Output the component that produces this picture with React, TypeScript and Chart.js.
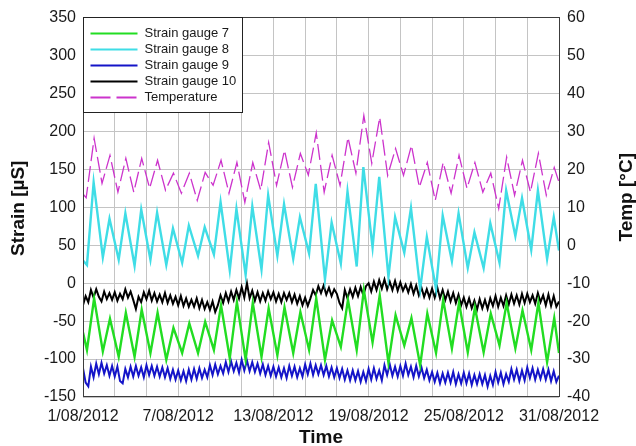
import { useEffect, useRef } from 'react';
import { Chart, registerables } from 'chart.js';

Chart.register(...registerables);

// Time axis: days after 1/08/2012 00:00, labelled every 6 days
const dateLabels = ['1/08/2012', '7/08/2012', '13/08/2012', '19/08/2012', '25/08/2012', '31/08/2012'];

// Strain gauge 7 (µS): daily lows (early morning) and highs (afternoon)
const gauge7Start = -65;
const gauge7Lows = [-88, -90, -97, -97, -92, -101, -92, -92, -88, -99, -101, -97, -95, -92, -88, -101, -84, -88, -78, -105, -82, -108, -92, -86, -91, -91, -82, -86, -88, -104];
const gauge7Highs = [-20, -47, -39, -35, -39, -59, -53, -51, -29, -25, -26, -33, -32, -38, -20, -49, -22, -9, -16, -42, -46, -40, -22, -26, -32, -40, -26, -36, -26, -46];
const gauge7End = -92;

// Strain gauge 8 (µS)
const gauge8Start = 30;
const gauge8Lows = [24, 34, 31, 23, 31, 24, 27, 36, 38, 17, 11, 18, 36, 32, 39, 5, 26, 22, 47, 8, 40, -8, -8, 29, 20, 20, 27, 62, 44, 32];
const gauge8Highs = [133, 85, 92, 97, 93, 72, 76, 74, 107, 98, 101, 116, 104, 87, 131, 80, 121, 153, 140, 87, 99, 61, 89, 92, 67, 79, 122, 112, 122, 87];
const gauge8End = 43;

// Strain gauge 9 (µS), 4-hourly readings
const gauge9Values = [
  -112, -131, -136, -110, -124, -106,
  -120, -105, -119, -108, -122, -109,
  -123, -110, -129, -132, -113, -124,
  -110, -123, -109, -122, -111, -124,
  -108, -121, -109, -122, -110, -123,
  -111, -124, -112, -126, -114, -127,
  -115, -128, -116, -129, -114, -127,
  -113, -126, -112, -125, -114, -124,
  -108, -121, -107, -120, -109, -119,
  -104, -117, -103, -116, -105, -118,
  -101, -115, -102, -116, -104, -117,
  -106, -119, -107, -121, -109, -122,
  -110, -123, -111, -124, -112, -125,
  -109, -122, -110, -124, -112, -123,
  -107, -120, -106, -121, -108, -120,
  -108, -121, -109, -123, -111, -124,
  -112, -125, -113, -127, -115, -128,
  -115, -128, -116, -130, -117, -129,
  -113, -127, -112, -126, -115, -128,
  -108, -121, -107, -122, -110, -123,
  -109, -122, -106, -121, -110, -124,
  -109, -123, -111, -125, -114, -128,
  -117, -130, -118, -132, -119, -131,
  -118, -131, -117, -133, -120, -132,
  -118, -132, -119, -134, -121, -133,
  -120, -133, -121, -136, -122, -134,
  -117, -131, -118, -133, -120, -130,
  -113, -127, -114, -129, -115, -128,
  -111, -125, -112, -127, -114, -126,
  -113, -127, -114, -129, -116, -130,
  -122,
];

// Strain gauge 10 (µS), 4-hourly readings
const gauge10Values = [
  -29, -17, -25, -9, -19, -8,
  -18, -24, -11, -21, -13, -22,
  -12, -23, -14, -21, -8, -19,
  -11, -22, -34, -18, -25, -12,
  -21, -10, -23, -13, -24, -15,
  -25, -13, -26, -16, -27, -18,
  -29, -17, -30, -20, -31, -22,
  -31, -20, -33, -22, -34, -25,
  -35, -24, -38, -29, -16, -26,
  -13, -24, -11, -22, -9, -20,
  -5, -19, 0, -20, -10, -23,
  -12, -24, -13, -23, -11, -21,
  -12, -24, -14, -25, -13, -22,
  -13, -25, -15, -27, -17, -29,
  -19, -30, -20, -9, -16, -4,
  -13, -3, -15, -6, -17, -8,
  -14, -26, -33, -9, -20, -8,
  -18, -6, -17, -5, -16, -4,
  0, -11, 2, -9, 4, -7,
  5, -8, 2, -9, 3, -10,
  1, -10, -2, -12, -1, -14,
  -3, -16, -6, -18, -8, -19,
  -7, -19, -6, -20, -9, -22,
  -11, -24, -13, -26, -15, -29,
  -19, -31, -20, -33, -23, -35,
  -21, -33, -22, -34, -20, -30,
  -17, -31, -19, -30, -16, -28,
  -15, -27, -16, -28, -14, -26,
  -14, -25, -16, -27, -13, -25,
  -16, -29, -15, -30, -17, -31,
  -24,
];

// Air temperature (°C): daily minima and maxima
const tempStart = 13.5;
const tempLows = [12.5, 16.3, 14, 14, 15, 14.5, 13.7, 11.8, 15.8, 13.7, 11.3, 14.5, 15.8, 15.3, 18.5, 14, 15.8, 19, 21.6, 18.4, 18.4, 15.3, 11.8, 13.7, 15, 14, 9.7, 13.2, 14, 13.2];
const tempHighs = [28.2, 23.7, 22.9, 22.9, 22.4, 19, 19, 19.2, 22.4, 21.8, 21.8, 27.1, 25, 24.2, 29.6, 23.7, 28.4, 34.2, 33.7, 25.5, 26.3, 21.8, 21.8, 23.7, 21.8, 19, 23.2, 22.4, 24.2, 20.5];
const tempEnd = 16.6;

const FONT = "'Liberation Sans', Arial, sans-serif";

type Pt = { x: number; y: number };

// Low/high pairs per day turned into a zig-zag daily cycle
function dailyCycle(start: number, lows: number[], highs: number[], end: number, lowAt: number, highAt: number): Pt[] {
  const pts: Pt[] = [{ x: 0, y: start }];
  for (let d = 0; d < lows.length; d++) {
    pts.push({ x: d + lowAt, y: lows[d] });
    pts.push({ x: d + highAt, y: highs[d] });
  }
  pts.push({ x: lows.length, y: end });
  return pts;
}

function regular(values: number[], perDay: number): Pt[] {
  return values.map((v, i) => ({ x: i / perDay, y: v }));
}

const overlayPlugin = {
  id: 'frameLegendTitles',
  afterDraw(chart: any) {
    const { ctx, chartArea: a } = chart;
    ctx.save();

    // plot frame
    ctx.strokeStyle = '#3c3c3c';
    ctx.lineWidth = 1;
    ctx.setLineDash([]);
    ctx.strokeRect(Math.floor(a.left) + 0.5, Math.floor(a.top) + 0.5, Math.round(a.right - a.left), Math.round(a.bottom - a.top));

    // legend box in the upper-left corner of the plot
    const lx = Math.floor(a.left) + 0.5;
    const ly = Math.floor(a.top) + 0.5;
    ctx.fillStyle = '#ffffff';
    ctx.fillRect(lx, ly, 159, 95);
    ctx.strokeStyle = '#222';
    ctx.strokeRect(lx, ly, 159, 95);
    ctx.font = `13px ${FONT}`;
    ctx.textBaseline = 'middle';
    ctx.textAlign = 'left';
    chart.data.datasets.forEach((ds: any, i: number) => {
      const y = ly + 16 + 16 * i;
      ctx.strokeStyle = ds.borderColor;
      ctx.lineWidth = 2;
      ctx.setLineDash(ds.borderDash ? [20, 6] : []);
      ctx.beginPath();
      ctx.moveTo(lx + 7, y);
      ctx.lineTo(lx + 54, y);
      ctx.stroke();
      ctx.setLineDash([]);
      ctx.fillStyle = '#1a1a1a';
      ctx.fillText(ds.label, lx + 61, y);
    });

    // axis titles
    ctx.fillStyle = '#111';
    ctx.font = `bold 19px ${FONT}`;
    ctx.textAlign = 'center';
    ctx.textBaseline = 'middle';
    const midY = (a.top + a.bottom) / 2;
    ctx.save();
    ctx.translate(19, midY + 1);
    ctx.rotate(-Math.PI / 2);
    ctx.fillText('Strain [µS]', 0, 0);
    ctx.restore();
    ctx.save();
    ctx.translate(627, midY - 10);
    ctx.rotate(-Math.PI / 2);
    ctx.fillText('Temp [°C]', 0, 0);
    ctx.restore();
    ctx.fillText('Time', (a.left + a.right) / 2, 438);

    ctx.restore();
  },
};

export default function App() {
  const canvasRef = useRef<HTMLCanvasElement | null>(null);

  useEffect(() => {
    const canvas = canvasRef.current;
    if (!canvas) return;

    const chart = new Chart(canvas, {
      type: 'line',
      data: {
        datasets: [
          {
            label: 'Strain gauge 7',
            data: dailyCycle(gauge7Start, gauge7Lows, gauge7Highs, gauge7End, 0.25, 0.7),
            borderColor: '#22dd22',
            borderWidth: 2.4,
            yAxisID: 'y',
          },
          {
            label: 'Strain gauge 8',
            data: dailyCycle(gauge8Start, gauge8Lows, gauge8Highs, gauge8End, 0.25, 0.67),
            borderColor: '#3fdde6',
            borderWidth: 2.4,
            yAxisID: 'y',
          },
          {
            label: 'Strain gauge 9',
            data: regular(gauge9Values, 6),
            borderColor: '#1414c8',
            borderWidth: 2,
            yAxisID: 'y',
          },
          {
            label: 'Strain gauge 10',
            data: regular(gauge10Values, 6),
            borderColor: '#000000',
            borderWidth: 2,
            yAxisID: 'y',
          },
          {
            label: 'Temperature',
            data: dailyCycle(tempStart, tempLows, tempHighs, tempEnd, 0.2, 0.7),
            borderColor: '#cc33cc',
            borderWidth: 1.3,
            borderDash: [16, 5],
            yAxisID: 'y2',
          },
        ],
      },
      options: {
        responsive: false,
        animation: false,
        events: [],
        elements: {
          point: { radius: 0 },
          line: { tension: 0 },
        },
        layout: { padding: { top: 17, left: 0, right: 0, bottom: 0 } },
        plugins: {
          legend: { display: false },
          tooltip: { enabled: false },
        },
        scales: {
          x: {
            type: 'linear',
            min: 0,
            max: 30,
            grid: { color: '#c4c4c4', drawTicks: false },
            border: { display: false },
            ticks: {
              stepSize: 2,
              autoSkip: false,
              maxRotation: 0,
              padding: 10,
              color: '#1a1a1a',
              font: { family: FONT, size: 16 },
              callback: (v: any) => (Number(v) % 6 === 0 ? dateLabels[Number(v) / 6] : ''),
            },
            afterFit: (s: any) => {
              s.height = 49;
            },
          },
          y: {
            position: 'left',
            min: -150,
            max: 350,
            grid: { color: '#c4c4c4', drawTicks: false },
            border: { display: false },
            ticks: {
              stepSize: 50,
              padding: 7,
              color: '#1a1a1a',
              font: { family: FONT, size: 16 },
            },
            afterFit: (s: any) => {
              s.width = 83;
            },
          },
          y2: {
            position: 'right',
            min: -40,
            max: 60,
            grid: { drawOnChartArea: false, drawTicks: false },
            border: { display: false },
            ticks: {
              stepSize: 10,
              padding: 8,
              color: '#1a1a1a',
              font: { family: FONT, size: 16 },
            },
            afterFit: (s: any) => {
              s.width = 77;
            },
          },
        },
      },
      plugins: [overlayPlugin],
    });

    return () => chart.destroy();
  }, []);

  return (
    <div style={{ position: 'absolute', left: 0, top: 0, width: 636, height: 446, background: '#fff' }}>
      <canvas ref={canvasRef} width={636} height={446} style={{ display: 'block', width: 636, height: 446 }} />
    </div>
  );
}
